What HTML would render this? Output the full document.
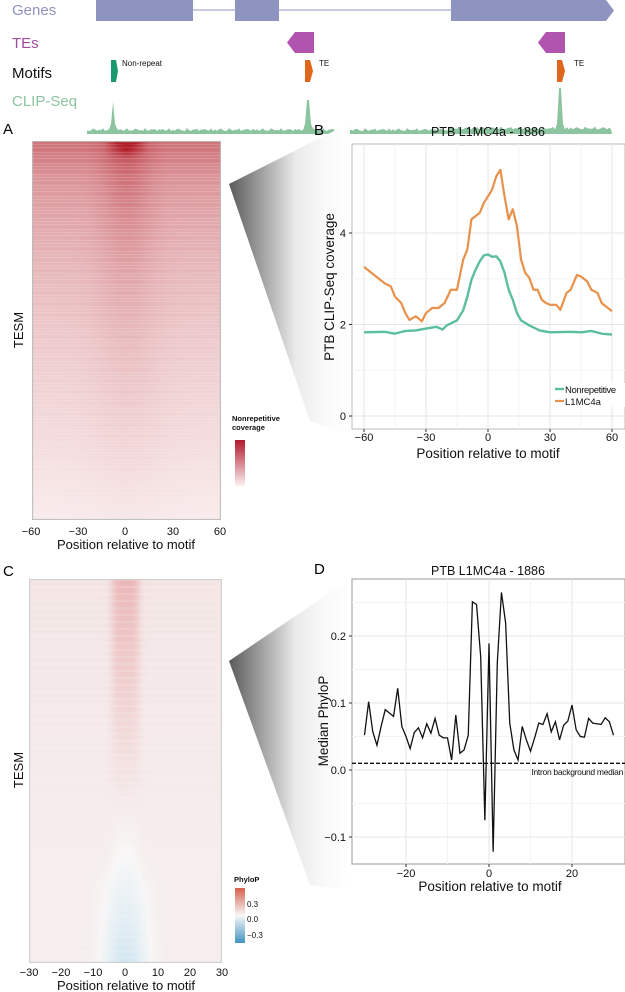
<!DOCTYPE html>
<html><head><meta charset="utf-8">
<style>
body{margin:0;width:625px;height:992px;background:#fff;position:relative;overflow:hidden;font-family:"Liberation Sans",Arial,sans-serif}
canvas{position:absolute}
svg{position:absolute;left:0;top:0}
</style></head>
<body>
<svg id="s" width="625" height="992">
<defs>
<linearGradient id="wg" x1="0" x2="1" y1="0" y2="0"><stop offset="0" stop-color="#5a5a5a"/><stop offset="0.55" stop-color="#eaeaea"/><stop offset="0.8" stop-color="#fafafa"/><stop offset="1" stop-color="#fff"/></linearGradient>
<linearGradient id="lgA" x1="0" x2="0" y1="0" y2="1"><stop offset="0" stop-color="#b2182b"/><stop offset="1" stop-color="#fbf0f0"/></linearGradient>
<linearGradient id="lgC" x1="0" x2="0" y1="0" y2="1"><stop offset="0" stop-color="#d6604d"/><stop offset="0.5" stop-color="#f7f7f7"/><stop offset="1" stop-color="#4393c3"/></linearGradient>
</defs>
<g>
<text x="12" y="15" font-size="15" fill="#8e93bf">Genes</text>
<line x1="193" y1="10" x2="451" y2="10" stroke="#c8cbe0" stroke-width="2"/>
<rect x="96" y="0" width="97" height="21" fill="#8e93bf"/>
<rect x="235" y="0" width="44" height="21" fill="#8e93bf"/>
<polygon points="451,0 606,0 614,10.5 606,21 451,21" fill="#8e93bf"/>
<text x="12" y="48" font-size="15" fill="#a04ca0">TEs</text>
<polygon points="287,42.5 295,32 314,32 314,53 295,53" fill="#b054b0"/>
<polygon points="538,42.5 546,32 565,32 565,53 546,53" fill="#b054b0"/>
<text x="12" y="78" font-size="15" fill="#111">Motifs</text>
<polygon points="111,60 116,60 118,71 116,82 111,82" fill="#1a9a6c"/>
<polygon points="305,60 310,60 313,71 310,82 305,82" fill="#e0661c"/>
<polygon points="557,60 562,60 565,71 562,82 557,82" fill="#e0661c"/>
<text x="122" y="66" font-size="8" fill="#111">Non-repeat</text>
<text x="319" y="66" font-size="8" fill="#111">TE</text>
<text x="574" y="66" font-size="8" fill="#111">TE</text>
<text x="12" y="106" font-size="15" fill="#8cc4a0">CLIP-Seq</text>
<path id="clip" fill="#8cc4a0"/>
</g>
<polygon points="229,184 350,123 350,435 310,421" fill="url(#wg)"/>
<polygon points="229,661 350,579 350,890 310,885" fill="url(#wg)"/>
<text x="3" y="134" font-size="15">A</text>
<text x="314" y="135" font-size="15">B</text>
<text x="3" y="576" font-size="15">C</text>
<text x="314" y="574" font-size="15">D</text>
<g font-size="11" text-anchor="middle" fill="#111">
<text x="31" y="535">−60</text>
<text x="78" y="535">−30</text>
<text x="125" y="535">0</text>
<text x="173" y="535">30</text>
<text x="220" y="535">60</text>
<text x="126" y="549" font-size="13">Position relative to motif</text>
<text transform="translate(23,330) rotate(-90)" font-size="13">TESM</text>
<text x="232" y="421" font-size="7.5" font-weight="bold" text-anchor="start">Nonrepetitive</text>
<text x="232" y="430" font-size="7.5" font-weight="bold" text-anchor="start">coverage</text>
<rect x="235" y="440" width="10" height="46" fill="url(#lgA)"/>
<text x="29" y="976">−30</text>
<text x="61" y="976">−20</text>
<text x="93" y="976">−10</text>
<text x="125" y="976">0</text>
<text x="158" y="976">10</text>
<text x="190" y="976">20</text>
<text x="222" y="976">30</text>
<text x="126" y="990" font-size="13">Position relative to motif</text>
<text transform="translate(23,770) rotate(-90)" font-size="13">TESM</text>
<text x="234" y="882" font-size="7.5" font-weight="bold" text-anchor="start">PhyloP</text>
<rect x="235" y="888" width="10" height="55" fill="url(#lgC)"/>
<text x="247" y="907" font-size="8" text-anchor="start">0.3</text>
<text x="247" y="922" font-size="8" text-anchor="start">0.0</text>
<text x="247" y="938" font-size="8" text-anchor="start">−0.3</text>
</g>
<g id="pb"></g>
<g id="pd"></g>
</svg>
<canvas id="ca" width="189" height="379" style="left:32px;top:141px"></canvas>
<canvas id="cc" width="193" height="384" style="left:29px;top:579px"></canvas>
<script>
const bX_orange=[-60,-55,-50,-47,-45,-42,-40,-38,-35,-32,-30,-27,-24,-21,-18,-15,-12,-10,-8,-6,-4,-2,0,2,4,6,8,10,12,14,16,18,20,22,24,26,28,30,33,35,38,40,43,45,48,50,53,55,58,60];
const bY_orange=[3.26,3.08,2.9,2.83,2.61,2.47,2.25,2.1,2.18,2.07,2.25,2.36,2.36,2.47,2.76,2.76,3.42,3.64,4.3,4.37,4.44,4.66,4.8,4.95,5.24,5.38,4.8,4.3,4.52,4.15,3.42,3.13,3.02,2.76,2.76,2.54,2.47,2.43,2.43,2.32,2.69,2.76,3.08,3.05,2.94,2.76,2.69,2.47,2.36,2.29];
const bX_green=[-60,-50,-45,-40,-35,-30,-25,-22,-20,-15,-12,-10,-8,-6,-4,-2,0,2,4,6,8,10,12,14,16,20,25,30,40,45,50,55,60];
const bY_green=[1.83,1.84,1.8,1.86,1.87,1.91,1.95,1.89,1.98,2.09,2.31,2.61,2.98,3.2,3.38,3.51,3.53,3.48,3.49,3.38,3.13,2.76,2.54,2.25,2.09,1.98,1.87,1.83,1.84,1.83,1.86,1.8,1.78];
const bXTicks=[-60,-30,0,30,60];
const bYTicks=[0,2,4];
const dX=[-30,-29,-28,-27,-26,-25,-24,-23,-22,-21,-20,-19,-18,-17,-16,-15,-14,-13,-12,-11,-10,-9,-8,-7,-6,-5,-4,-3,-2,-1,0,1,2,3,4,5,6,7,8,9,10,11,12,13,14,15,16,17,18,19,20,21,22,23,24,25,26,27,28,29,30];
const dY=[0.052,0.102,0.057,0.037,0.065,0.09,0.085,0.08,0.122,0.065,0.05,0.032,0.056,0.063,0.048,0.069,0.055,0.077,0.052,0.048,0.048,0.015,0.082,0.025,0.03,0.052,0.251,0.247,0.169,-0.075,0.189,-0.122,0.16,0.265,0.22,0.07,0.03,0.015,0.065,0.045,0.028,0.048,0.07,0.068,0.084,0.057,0.072,0.045,0.067,0.073,0.097,0.06,0.05,0.049,0.077,0.07,0.069,0.068,0.078,0.072,0.052];
const dXTicks=[-20,0,20];
const dYTicks=[-0.1,0.0,0.1,0.2];
const dBackground=[0.01];
const aRowLevels=[0.62,0.46,0.38,0.32,0.27,0.23,0.19,0.16,0.13,0.1,0.07,0.04];
const aColProfile=[0.8,0.8,0.82,0.86,0.95,1.1,1.25,1.1,0.95,0.86,0.82,0.8,0.8];
const cRowCenter=[0.32,0.28,0.24,0.2,0.16,0.12,0.08,0.04,0.0,-0.05,-0.1,-0.15];
const cRowBack=[0.09,0.085,0.08,0.075,0.07,0.065,0.06,0.055,0.05,0.05,0.05,0.05];
const clipPeaks=[113,308,560];
const clipHeights=[32,34,46];

const NS='http://www.w3.org/2000/svg';
function mk(tag,attrs,parent,name){const e=document.createElementNS(NS,tag);for(const k in attrs)e.setAttribute(k,attrs[k]);


parent.appendChild(e);return e;}

(function(){let d='M87,134';for(let x=87;x<=612;x+=2){let h=3+3*Math.abs(Math.sin(x*0.9)*Math.cos(x*0.37));if(x>450)h+=1.5;
clipPeaks.forEach((p,i)=>{if(Math.abs(x-p)<=1)h=clipHeights[i];else if(Math.abs(x-p)<=3)h=Math.max(h,10);});d+=' L'+x+','+(134-h);}d+=' L612,134 Z';document.getElementById('clip').setAttribute('d',d);})();

(function(){const g=document.getElementById('pb');const L=352,R=625,T=144,B=429;
const sx=v=>364+(v+60)*(612-364)/120, sy=v=>416-v*45.75;
mk('rect',{x:L,y:T,width:R-L,height:B-T,fill:'#fff',stroke:'#bbb','stroke-width':1},g,'panel-b-background');
for(let i=0;i<bXTicks.length-1;i++){const m=(bXTicks[i]+bXTicks[i+1])/2;mk('line',{x1:sx(m),x2:sx(m),y1:T,y2:B,stroke:'#f3f3f3'},g,'b-minor-grid');}
[1,3].forEach(v=>mk('line',{x1:L,x2:R,y1:sy(v),y2:sy(v),stroke:'#f3f3f3'},g,'b-minor-grid'));
bXTicks.forEach(v=>{mk('line',{x1:sx(v),x2:sx(v),y1:T,y2:B,stroke:'#e6e6e6'},g,'b-grid-x');
mk('line',{x1:sx(v),x2:sx(v),y1:B,y2:B+3,stroke:'#333'},g,'b-xtick');
const t=mk('text',{x:sx(v),y:B+12,'font-size':11,'text-anchor':'middle',fill:'#111'},g,'b-xtick-label');t.textContent=v<0?'−'+(-v):v;});
bYTicks.forEach(v=>{mk('line',{x1:L,x2:R,y1:sy(v),y2:sy(v),stroke:'#e6e6e6'},g,'b-grid-y');
mk('line',{x1:L-3,x2:L,y1:sy(v),y2:sy(v),stroke:'#333'},g,'b-ytick');
const t=mk('text',{x:L-6,y:sy(v)+4,'font-size':11,'text-anchor':'end',fill:'#111'},g,'b-ytick-label');t.textContent=v;});
mk('polyline',{points:bX_orange.map((x,i)=>sx(x)+','+sy(bY_orange[i])).join(' '),fill:'none',stroke:'#e8914a','stroke-width':2.2,'stroke-linejoin':'round'},g,'l1mc4a-line');
mk('polyline',{points:bX_green.map((x,i)=>sx(x)+','+sy(bY_green[i])).join(' '),fill:'none',stroke:'#5bbf9f','stroke-width':2.4,'stroke-linejoin':'round'},g,'nonrepetitive-line');
let t=mk('text',{x:488,y:136,'font-size':12.5,'text-anchor':'middle',fill:'#111'},g,'b-title');t.textContent='PTB L1MC4a - 1886';
t=mk('text',{x:488,y:458,'font-size':13.5,'text-anchor':'middle',fill:'#111'},g,'b-x-title');t.textContent='Position relative to motif';
t=mk('text',{transform:'translate(334,287) rotate(-90)','font-size':13.5,'text-anchor':'middle',fill:'#111'},g,'b-y-title');t.textContent='PTB CLIP-Seq coverage';
mk('rect',{x:553,y:383,width:72,height:24,fill:'#fff'},g,'b-legend');
mk('line',{x1:555,x2:564,y1:389,y2:389,stroke:'#5bbf9f','stroke-width':2.4},g,'legend-key-nonrepetitive');
mk('line',{x1:555,x2:564,y1:401,y2:401,stroke:'#e8914a','stroke-width':2.2},g,'legend-key-l1mc4a');
t=mk('text',{x:565,y:393,'font-size':9.5,fill:'#111','letter-spacing':'-0.4'},g,'legend-entry-nonrepetitive');t.textContent='Nonrepetitive';
t=mk('text',{x:565,y:405,'font-size':9.5,fill:'#111'},g,'legend-entry-l1mc4a');t.textContent='L1MC4a';
})();

(function(){const g=document.getElementById('pd');const L=352,R=625,T=579,B=864;
const sx=v=>489+v*4.15, sy=v=>770-v*670;
mk('rect',{x:L,y:T,width:R-L,height:B-T,fill:'#fff',stroke:'#aaa','stroke-width':1.2},g,'panel-d-background');
[-10,10].forEach(v=>mk('line',{x1:sx(v),x2:sx(v),y1:T,y2:B,stroke:'#f3f3f3'},g,'d-minor-grid'));
[-0.05,0.05,0.15,0.25].forEach(v=>mk('line',{x1:L,x2:R,y1:sy(v),y2:sy(v),stroke:'#f3f3f3'},g,'d-minor-grid'));
dXTicks.forEach(v=>{mk('line',{x1:sx(v),x2:sx(v),y1:T,y2:B,stroke:'#e6e6e6'},g,'d-grid-x');
mk('line',{x1:sx(v),x2:sx(v),y1:B,y2:B+3,stroke:'#333'},g,'d-xtick');
const t=mk('text',{x:sx(v),y:B+13,'font-size':11,'text-anchor':'middle',fill:'#111'},g,'d-xtick-label');t.textContent=v<0?'−'+(-v):v;});
dYTicks.forEach(v=>{mk('line',{x1:L,x2:R,y1:sy(v),y2:sy(v),stroke:'#e6e6e6'},g,'d-grid-y');
mk('line',{x1:L-3,x2:L,y1:sy(v),y2:sy(v),stroke:'#333'},g,'d-ytick');
const t=mk('text',{x:L-6,y:sy(v)+4,'font-size':11,'text-anchor':'end',fill:'#111'},g,'d-ytick-label');t.textContent=v<0?'−'+(-v).toFixed(1):v.toFixed(1);});
mk('line',{x1:L,x2:R,y1:sy(dBackground[0]),y2:sy(dBackground[0]),stroke:'#111','stroke-width':1.3,'stroke-dasharray':'4,2'},g,'intron-background-line');
let t=mk('text',{x:623,y:775,'font-size':8.5,'text-anchor':'end',fill:'#111','letter-spacing':'-0.3'},g,'intron-background-label');t.textContent='Intron background median';
mk('polyline',{points:dX.map((x,i)=>sx(x)+','+sy(dY[i])).join(' '),fill:'none',stroke:'#111','stroke-width':1.3},g,'median-phylop-line');
t=mk('text',{x:488,y:575,'font-size':12.5,'text-anchor':'middle',fill:'#111'},g,'d-title');t.textContent='PTB L1MC4a - 1886';
t=mk('text',{x:490,y:891,'font-size':13.5,'text-anchor':'middle',fill:'#111'},g,'d-x-title');t.textContent='Position relative to motif';
t=mk('text',{transform:'translate(328,721) rotate(-90)','font-size':13.5,'text-anchor':'middle',fill:'#111'},g,'d-y-title');t.textContent='Median PhyloP';
})();

function interp(arr,f){const p=f*(arr.length-1),i=Math.min(Math.floor(p),arr.length-2),r=p-i;return arr[i]*(1-r)+arr[i+1]*r;}
(function(){const c=document.getElementById('ca').getContext('2d');const W=189,H=379;
for(let y=0;y<H;y++){const lvl=interp(aRowLevels,y/(H-1));const stripe=((y*37)%11<3)?0.75:1;
for(let x=0;x<W;x++){const f=x/(W-1);const w=0.12+0.1*(y/H);let prof=1+0.35*Math.exp(-Math.pow((f-0.5)/w,2));
let top=(y<18)?Math.max(0,1-Math.abs(x-94)/22)*(1-y/18)*0.4:0;
let v=Math.min(1,lvl*prof*stripe+top);
const r=Math.round(252-(252-178)*v),g=Math.round(244-(244-30)*v),b=Math.round(244-(244-40)*v);
c.fillStyle=`rgb(${r},${g},${b})`;c.fillRect(x,y,1,1);}}
c.strokeStyle='#bbb';c.strokeRect(0.5,0.5,W-1,H-1);})();
(function(){const c=document.getElementById('cc').getContext('2d');const W=193,H=384;
for(let y=0;y<H;y++){const f=y/(H-1);const cen=interp(cRowCenter,f),bk=interp(cRowBack,f);const stripe=((y*29)%7<2)?0.8:1;
const mix=Math.max(0,Math.min(1,-cen/0.06+0.3));
for(let x=0;x<W;x++){const pos=(x/(W-1))*60-30;
const wc=Math.exp(-Math.pow(pos/4.5,4));const wb=Math.exp(-Math.pow(pos/7,2));
const w=wc+(wb-wc)*mix;
let v=bk*stripe*(1-w)+cen*stripe*w;
let r,g,b;if(v>=0){r=248-Math.round(40*v);g=247-Math.round(200*v);b=247-Math.round(200*v);}else{const a=-v;r=247-Math.round(250*a);g=247-Math.round(110*a);b=247-Math.round(40*a);}
c.fillStyle=`rgb(${r},${g},${b})`;c.fillRect(x,y,1,1);}}
c.strokeStyle='#ccc';c.strokeRect(0.5,0.5,W-1,H-1);})();
</script>
</body></html>
